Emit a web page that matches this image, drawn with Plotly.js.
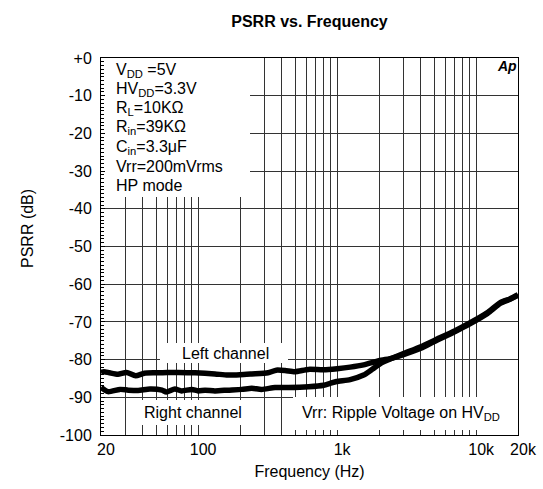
<!DOCTYPE html>
<html>
<head>
<meta charset="utf-8">
<script src="https://cdn.plot.ly/plotly-3.0.1.min.js"></script>
<style>html,body{margin:0;padding:0;background:#fff;}#chart{width:543px;height:489px;}</style>
</head>
<body>
<div id="chart"></div>
<script>
// Frequency (Hz) and PSRR (dB)
const leftFreq = [20, 21, 23, 26.5, 30.5, 35.5, 41, 50, 60, 72, 95, 132, 163, 200, 243, 318, 365, 422, 497, 622, 800, 1000, 1240, 1550, 2000, 2500, 3000, 4000, 5000, 7000, 9000, 12000, 15000, 17500, 20000];
const leftPSRR = [-83.4, -83.2, -83.5, -83.9, -83.4, -84.3, -83.6, -83.5, -83.4, -83.4, -83.5, -83.8, -84.1, -84.0, -83.8, -83.5, -82.8, -82.9, -83.2, -82.6, -82.7, -82.4, -82.0, -81.4, -80.3, -79.6, -78.7, -77.0, -75.2, -72.6, -70.5, -67.8, -65.0, -64.0, -62.9];
const rightFreq = [20, 22.5, 27.4, 31.4, 37, 45, 55, 59, 68, 76, 90, 100, 112, 132, 163, 206, 243, 286, 357, 445, 622, 800, 890, 990, 1240, 1550, 1800, 2100, 2500, 3000, 4000, 5000, 7000, 9000, 12000, 15000, 17500, 20000];
const rightPSRR = [-87.4, -88.5, -87.9, -88.1, -88.2, -87.8, -88.1, -88.6, -87.8, -88.3, -87.9, -88.3, -88.1, -88.3, -88.1, -87.9, -87.6, -87.9, -87.4, -87.4, -87.2, -86.8, -86.3, -85.8, -85.3, -84.1, -82.5, -80.8, -79.6, -78.4, -76.6, -74.9, -72.4, -70.3, -67.6, -64.8, -63.9, -62.8];

const xLabelVals = [20, 100, 1000, 10000, 20000];
const xLabelText = ['20', '100', '1k', '10k', '20k'];
const xMinorGridVals = [30, 40, 50, 60, 70, 80, 90, 200, 300, 400, 500, 600, 700, 800, 900, 2000, 3000, 4000, 5000, 6000, 7000, 8000, 9000];
const yTickVals = [0, -10, -20, -30, -40, -50, -60, -70, -80, -90, -100];
const yTickText = ['+0', '-10', '-20', '-30', '-40', '-50', '-60', '-70', '-80', '-90', '-100'];

const conditions = ['V<sub>DD</sub> =5V', 'HV<sub>DD</sub>=3.3V', 'R<sub>L</sub>=10KΩ', 'R<sub>in</sub>=39KΩ', 'C<sub>in</sub>=3.3μF', 'Vrr=200mVrms', 'HP mode'];

const FONT = 'Arial, "Liberation Sans", Helvetica, sans-serif';
const GRID = '#333';
// plot area in pixels
const PL = 101, PR = 518, PT = 58, PB = 435;
const px = x => (x - PL) / (PR - PL);
const py = y => (PB - y) / (PB - PT);

const lineStyle = {color: '#000', width: 5.5, shape: 'spline', smoothing: 0.6};
const traces = [
  {x: leftFreq, y: leftPSRR, type: 'scatter', mode: 'lines', name: 'Left channel', line: lineStyle, hoverinfo: 'skip'},
  {x: rightFreq, y: rightPSRR, type: 'scatter', mode: 'lines', name: 'Right channel', line: lineStyle, hoverinfo: 'skip'}
];

const boxes = [
  [105, 58, 250, 197],
  [160, 343, 288, 363],
  [130, 400, 255, 425],
  [293, 397, 518, 430]
];
const shapes = boxes.map(b => ({
  type: 'rect', xref: 'paper', yref: 'paper', layer: 'above',
  x0: px(b[0]), x1: px(b[2]), y0: py(b[3]), y1: py(b[1]),
  fillcolor: '#fff', line: {width: 0}
}));

const txt = {family: FONT, size: 16, color: '#000'};
const annotations = conditions.map((t, i) => ({
  text: t, xref: 'paper', yref: 'paper', x: px(114), y: py(70 + i * 19.3),
  xanchor: 'left', yanchor: 'middle', showarrow: false, font: txt
}));
annotations.push(
  {text: 'Left channel', xref: 'paper', yref: 'paper', x: px(225), y: py(353), xanchor: 'center', yanchor: 'middle', showarrow: false, font: txt},
  {text: 'Right channel', xref: 'paper', yref: 'paper', x: px(193), y: py(412), xanchor: 'center', yanchor: 'middle', showarrow: false, font: txt},
  {text: 'Vrr: Ripple Voltage on HV<sub>DD</sub>', xref: 'paper', yref: 'paper', x: px(401), y: py(413), xanchor: 'center', yanchor: 'middle', showarrow: false, font: txt},
  {text: '<b><i>Ap</i></b>', xref: 'paper', yref: 'paper', x: px(507), y: py(66), xanchor: 'center', yanchor: 'middle', showarrow: false, font: {family: FONT, size: 14, color: '#000'}},
  {text: 'PSRR (dB)', xref: 'paper', yref: 'paper', x: px(27), y: py(229), xanchor: 'center', yanchor: 'middle', textangle: -90, showarrow: false, font: txt}
);

const layout = {
  width: 543, height: 489,
  margin: {l: PL, r: 543 - PR, t: PT, b: 489 - PB, pad: 0},
  paper_bgcolor: '#fff', plot_bgcolor: '#fff',
  showlegend: false,
  title: {text: '<b>PSRR vs. Frequency</b>', font: {family: FONT, size: 16, color: '#000'}, xref: 'paper', x: 0.5, xanchor: 'center', yref: 'container', y: 1 - 21 / 489, yanchor: 'middle'},
  xaxis: {
    type: 'log', range: [Math.log10(20), Math.log10(20000)],
    tickmode: 'array', tickvals: xLabelVals, ticktext: xLabelText, ticklabelshift: 5,
    ticks: '', showgrid: true, gridcolor: GRID, gridwidth: 1,
    minor: {tickmode: 'array', tickvals: xMinorGridVals, ticks: '', showgrid: true, gridcolor: GRID, gridwidth: 1},
    showline: true, linecolor: '#000', linewidth: 1, mirror: true, zeroline: false,
    tickfont: txt,
    title: {text: 'Frequency (Hz)', font: txt, standoff: 8}
  },
  yaxis: {
    range: [-100, 0], tickmode: 'array', tickvals: yTickVals, ticktext: yTickText,
    ticks: 'inside', ticklen: 4, tickcolor: '#000', ticklabelstandoff: 5,
    minor: {tickmode: 'linear', tick0: 0, dtick: 1, ticks: 'inside', ticklen: 3, tickcolor: '#000', showgrid: false},
    showgrid: true, gridcolor: GRID, gridwidth: 1,
    showline: true, linecolor: '#000', linewidth: 1, mirror: true, zeroline: false,
    tickfont: txt
  },
  shapes: shapes,
  annotations: annotations
};

Plotly.newPlot('chart', traces, layout, {displayModeBar: false});
</script>
</body>
</html>
